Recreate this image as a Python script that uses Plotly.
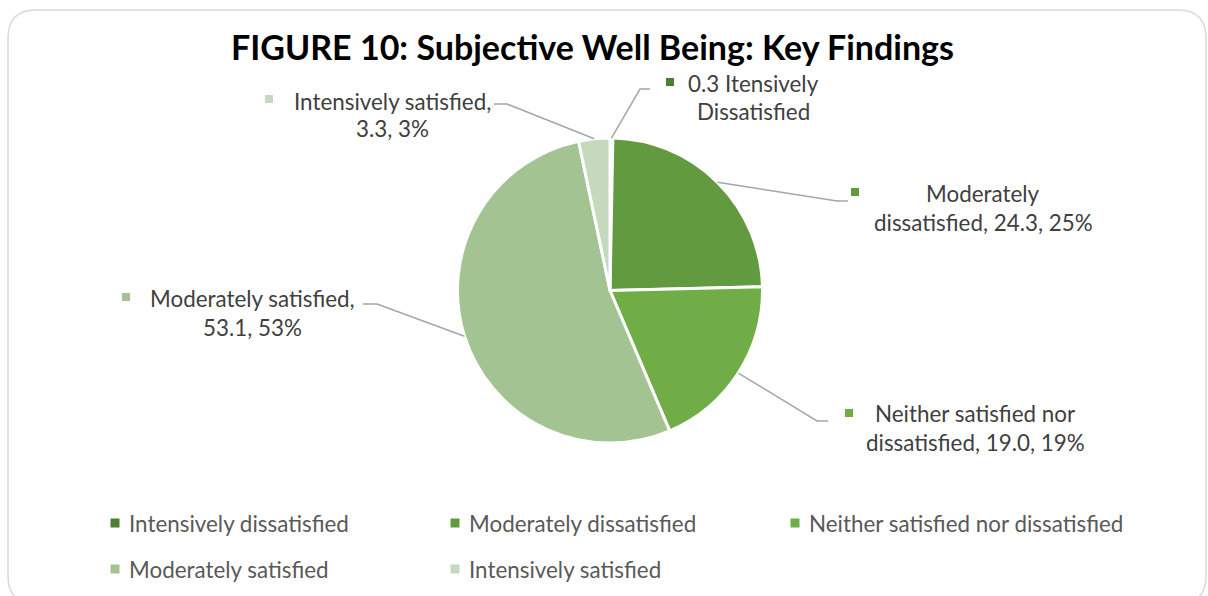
import math
import plotly.graph_objects as go

# ---- data ----
categories = [
    "Intensively dissatisfied",
    "Moderately dissatisfied",
    "Neither satisfied nor dissatisfied",
    "Moderately satisfied",
    "Intensively satisfied",
]
values = [0.3, 24.3, 19.0, 53.1, 3.3]
percent_labels = ["", "25%", "19%", "53%", "3%"]
colors = ["#4f7d32", "#629b3f", "#70ad47", "#a3c492", "#c5d9bd"]

title_text = "FIGURE 10: Subjective Well Being: Key Findings"

# callout text, two lines per slice
callout_lines = [
    [f"{values[0]} Itensively", "Dissatisfied"],
    ["Moderately", f"dissatisfied, {values[1]:.1f}, {percent_labels[1]}"],
    ["Neither satisfied nor", f"dissatisfied, {values[2]:.1f}, {percent_labels[2]}"],
    ["Moderately satisfied,", f"{values[3]:.1f}, {percent_labels[3]}"],
    ["Intensively satisfied,", f"{values[4]:.1f}, {percent_labels[4]}"],
]

# ---- layout geometry (pixels, origin top-left) ----
W, H = 1208, 596
CX, CY, R = 610.0, 290.5, 152.5

# per-slice callout placement: marker, text centre x, line ys, attach point, elbow point
callout_pos = [
    dict(marker=(670, 82), tx=753, ty=(83, 112), attach=(650, 89), elbow=(640, 89)),
    dict(marker=(855, 192), tx=983, ty=(193, 222), attach=(848, 201), elbow=(837, 201)),
    dict(marker=(849, 413), tx=975, ty=(413, 442), attach=(828, 421), elbow=(817, 421)),
    dict(marker=(126, 297), tx=252, ty=(298, 327), attach=(363, 304), elbow=(377, 304)),
    dict(marker=(269, 99), tx=392, ty=(101, 129), attach=(494, 104), elbow=(507, 104)),
]

legend_cols = [115, 455, 795]
legend_rows = [523, 569]

FONT = "Lato"
LABEL_SIZE = 22.4
TITLE_SIZE = 34
LABEL_COLOR = "#404040"
LEGEND_COLOR = "#595959"
LINE_COLOR = "#a6a6a6"


def px(x):
    return x / W


def py(y):
    return 1 - y / H


fig = go.Figure(
    go.Pie(
        labels=categories,
        values=values,
        sort=False,
        direction="clockwise",
        rotation=0,
        marker=dict(colors=colors, line=dict(color="white", width=3)),
        textinfo="none",
        hoverinfo="label+value+percent",
        showlegend=False,
        domain=dict(x=[px(CX - R), px(CX + R)], y=[py(CY + R), py(CY - R)]),
    )
)

shapes = []
annotations = []

# outer rounded frame
fx0, fy0, fx1, fy1, rad = 8, 10, 1206, 604, 28
frame_path = (
    f"M {px(fx0 + rad)},{py(fy0)} L {px(fx1 - rad)},{py(fy0)} "
    f"Q {px(fx1)},{py(fy0)} {px(fx1)},{py(fy0 + rad)} "
    f"L {px(fx1)},{py(fy1 - rad)} Q {px(fx1)},{py(fy1)} {px(fx1 - rad)},{py(fy1)} "
    f"L {px(fx0 + rad)},{py(fy1)} Q {px(fx0)},{py(fy1)} {px(fx0)},{py(fy1 - rad)} "
    f"L {px(fx0)},{py(fy0 + rad)} Q {px(fx0)},{py(fy0)} {px(fx0 + rad)},{py(fy0)} Z"
)
shapes.append(dict(type="path", xref="paper", yref="paper", path=frame_path,
                   line=dict(color="#d9d9d9", width=1.5), layer="below"))

# title
annotations.append(dict(
    text=f"<b>{title_text}</b>", xref="paper", yref="paper",
    x=px(592), y=py(47), xanchor="center", yanchor="middle", showarrow=False,
    font=dict(family=FONT, size=TITLE_SIZE, color="#000000"),
))

# callouts with leader lines from each slice's mid-angle on the rim
total = sum(values)
cum = 0.0
for i, v in enumerate(values):
    mid = (cum + v / 2) / total * 2 * math.pi
    cum += v
    ex = CX + R * math.sin(mid)
    ey = CY - R * math.cos(mid)
    pos = callout_pos[i]
    (ax, ay), (bx, by) = pos["attach"], pos["elbow"]
    shapes.append(dict(
        type="path", xref="paper", yref="paper",
        path=f"M {px(ex)},{py(ey)} L {px(bx)},{py(by)} L {px(ax)},{py(ay)}",
        line=dict(color=LINE_COLOR, width=1.5),
    ))
    mx, my = pos["marker"]
    s = 4
    shapes.append(dict(type="rect", xref="paper", yref="paper",
                       x0=px(mx - s), x1=px(mx + s), y0=py(my + s), y1=py(my - s),
                       fillcolor=colors[i], line=dict(width=0)))
    for line_text, ly in zip(callout_lines[i], pos["ty"]):
        annotations.append(dict(
            text=line_text, xref="paper", yref="paper",
            x=px(pos["tx"]), y=py(ly), xanchor="center", yanchor="middle",
            showarrow=False, font=dict(family=FONT, size=LABEL_SIZE, color=LABEL_COLOR),
        ))

# legend in three columns
for i, name in enumerate(categories):
    lx = legend_cols[i % 3]
    ly = legend_rows[i // 3]
    s = 4.5
    shapes.append(dict(type="rect", xref="paper", yref="paper",
                       x0=px(lx - s), x1=px(lx + s), y0=py(ly + s), y1=py(ly - s),
                       fillcolor=colors[i], line=dict(width=0)))
    annotations.append(dict(
        text=name, xref="paper", yref="paper",
        x=px(lx + 12), y=py(ly), xanchor="left", yanchor="middle",
        showarrow=False, font=dict(family=FONT, size=LABEL_SIZE, color=LEGEND_COLOR),
    ))

fig.update_layout(
    width=W, height=H,
    margin=dict(l=0, r=0, t=0, b=0),
    paper_bgcolor="white",
    plot_bgcolor="white",
    shapes=shapes,
    annotations=annotations,
)

fig.write_html("out.html")
